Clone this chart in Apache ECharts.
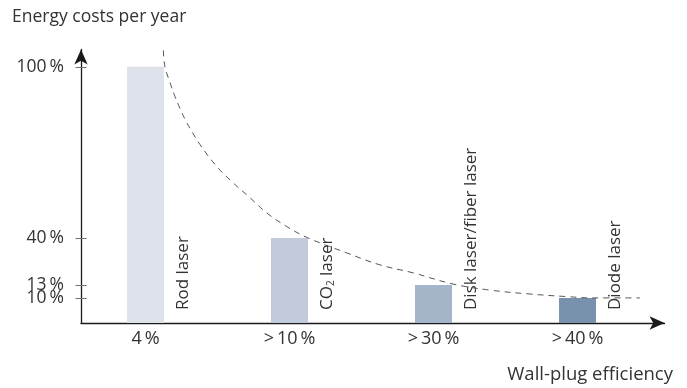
<!DOCTYPE html>
<html>
<head>
<meta charset="utf-8">
<script src="https://cdn.jsdelivr.net/npm/echarts@6/dist/echarts.min.js"></script>
<style>
  html, body { margin: 0; padding: 0; background: #ffffff; }
  #chart { width: 687px; height: 388px; }
</style>
</head>
<body>
<div id="chart"></div>
<script>
// Wall-plug efficiency classes (x positions 1..4) and their yearly energy cost
const categories = ['4\u2009%', '>\u200910\u2009%', '>\u200930\u2009%', '>\u200940\u2009%'];
const laserTypes = ['Rod laser', 'CO{sub|2} laser', 'Disk laser/fiber laser', 'Diode laser'];
const energyCost = [100, 40, 13, 10];
const barColors = ['#dde2eb', '#c2cbdb', '#a4b4c9', '#7891ad'];
const costTicks = [10, 13, 40, 100];
// the closely spaced 13 % tick label is carried by the second cost axis
const costLabelsMain = [10, 40, 100];
const costLabelsAlt = [13];

// Schematic cost axis: stretches of the range are squeezed so the low ticks stay readable
const costBreaks = [
  { start: 1, end: 9, gap: 3.78 },
  { start: 15, end: 38, gap: 6.83 },
  { start: 45, end: 95, gap: 29.4 }
];

// Dashed trend curve: cost falling as efficiency rises
const trendX = [1.124, 1.135, 1.170, 1.205, 1.240, 1.274, 1.309, 1.378, 1.494, 1.608, 1.726, 1.842, 1.981, 2.128,
                2.397, 2.628, 2.858, 3.135, 3.392, 3.67, 3.927, 4.108, 4.434];
const trendY = [103.8, 100, 96.4, 91.8, 87.1, 83.0, 79.4, 73.1, 64.5, 58.1, 52.2, 46.3, 42.6, 40,
                33.1, 23.8, 17.6, 13.2, 11.8, 10.9, 10.3, 10.0, 10.0];

const FONT = 'Open Sans';
const TEXT = '#333333';
const AXIS_MAX = 104;

const axisArrowLine = {
  show: true, onZero: false,
  symbol: ['none', 'arrow'], symbolSize: [10, 15],
  lineStyle: { color: '#1a1a1a', width: 1.3 }
};
const hiddenLine = { show: true, onZero: false, lineStyle: { color: '#ffffff', width: 0, opacity: 0 } };
const tickStyle = { color: '#6f6f6f', width: 1 };
const costLabelStyle = {
  showMinLabel: true, showMaxLabel: true, hideOverlap: false,
  formatter: v => v + '\u2009%',
  fontFamily: FONT, fontSize: 17.5, color: TEXT, margin: 17
};

const chart = echarts.init(document.getElementById('chart'), null, { renderer: 'canvas' });

chart.setOption({
  animation: false,
  backgroundColor: '#ffffff',
  textStyle: { fontFamily: FONT },
  title: [
    {
      text: 'Energy costs per year', left: 12, top: 8, padding: 0,
      textStyle: { fontFamily: FONT, fontSize: 17.5, fontWeight: 'normal', color: TEXT }
    },
    {
      text: 'Wall-plug efficiency', right: 14, top: 365, padding: 0,
      textStyle: { fontFamily: FONT, fontSize: 18.5, fontWeight: 'normal', color: TEXT }
    }
  ],
  grid: { left: 81, right: 22.5, top: 49.5, bottom: 65, containLabel: false },
  xAxis: {
    type: 'value',
    min: 0.552,
    max: 4.604,
    axisLine: axisArrowLine,
    axisTick: { show: false },
    splitLine: { show: false },
    axisLabel: {
      customValues: [1, 2, 3, 4],
      formatter: v => categories[Math.round(v) - 1],
      fontFamily: FONT, fontSize: 18, color: TEXT, margin: 7
    }
  },
  yAxis: [
    {
      // cost scale: outward ticks and most labels
      type: 'value', min: 0, max: AXIS_MAX, position: 'left', offset: 0,
      breaks: costBreaks,
      breakArea: { show: false },
      axisLine: hiddenLine,
      axisTick: { show: true, customValues: costTicks, length: 5.5, inside: false, lineStyle: tickStyle },
      splitLine: { show: false },
      axisLabel: Object.assign({ customValues: costLabelsMain }, costLabelStyle)
    },
    {
      // inward half of the tick marks, plus the 13 % label
      type: 'value', min: 0, max: AXIS_MAX, position: 'left', offset: 0,
      breaks: costBreaks,
      breakArea: { show: false },
      axisLine: hiddenLine,
      axisTick: { show: true, customValues: costTicks, length: 5.5, inside: true, lineStyle: tickStyle },
      splitLine: { show: false },
      axisLabel: Object.assign({ customValues: costLabelsAlt, inside: false }, costLabelStyle)
    },
    {
      // continuous axis line with arrow head
      type: 'value', min: 0, max: AXIS_MAX, position: 'left', offset: 0,
      axisLine: axisArrowLine,
      axisTick: { show: false },
      splitLine: { show: false },
      axisLabel: { show: false }
    }
  ],
  series: [
    {
      type: 'bar',
      yAxisIndex: 0,
      barWidth: 37,
      data: energyCost.map((v, i) => ({ value: [i + 1, v], itemStyle: { color: barColors[i] } })),
      label: {
        show: true,
        position: ['100%', '100%'],
        rotate: 90,
        align: 'left',
        verticalAlign: 'top',
        offset: [13, 11],
        formatter: p => laserTypes[p.dataIndex],
        fontFamily: FONT, fontSize: 17, color: TEXT,
        rich: {
          sub: { fontFamily: FONT, fontSize: 10, color: TEXT, verticalAlign: 'bottom', padding: [7, 0, 0, 0] }
        }
      },
      z: 2
    },
    {
      type: 'line',
      yAxisIndex: 0,
      data: trendX.map((x, i) => [x, trendY[i]]),
      smooth: 0.4,
      symbol: 'none',
      lineStyle: { color: '#555555', width: 1, type: [6, 5] },
      z: 3
    }
  ]
});
</script>
</body>
</html>
